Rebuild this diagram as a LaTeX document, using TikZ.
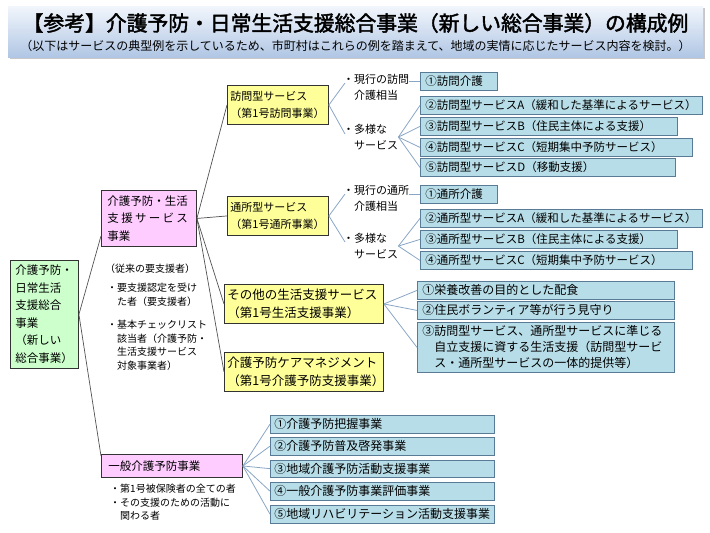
\documentclass[tikz,border=0pt]{standalone}
\usepackage{fontspec}
\setmainfont[AutoFakeBold=2]{Noto Sans CJK JP}
\usetikzlibrary{positioning}
\definecolor{RootGreen}{HTML}{CCFFCC}
\definecolor{KindPink}{HTML}{FFCCFF}
\definecolor{SvcYellow}{HTML}{FFFF99}
\definecolor{ItemBlue}{HTML}{B7DDE8}
\definecolor{ItemEdge}{HTML}{5A7B96}
\definecolor{FanLine}{HTML}{8AA6C6}
\definecolor{BoxInk}{HTML}{333333}
\definecolor{BannerTop}{HTML}{F2F6FC}
\definecolor{BannerBot}{HTML}{B0C6E4}

\begin{document}
\begin{tikzpicture}[x=1pt, y=-1pt,
  box/.style={draw=BoxInk, line width=0.9pt, anchor=north west,
              align=left, inner ysep=0pt},
  root/.style={box, fill=RootGreen, text width=58pt, minimum height=108pt,
               inner xsep=5pt, font=\fontsize{11.5}{17.5}\selectfont},
  kind/.style={box, fill=KindPink, inner xsep=6pt,
               font=\fontsize{11.5}{17.5}\selectfont},
  svc/.style={box, fill=SvcYellow, inner xsep=3pt, minimum height=39pt},
  item/.style={draw=ItemEdge, line width=0.8pt, fill=ItemBlue,
               anchor=north west, align=left, inner xsep=5pt, inner ysep=0pt,
               minimum height=18pt, text width=#1},
  note/.style={anchor=north west, align=left, inner sep=0pt,
               font=\fontsize{10}{13.5}\selectfont},
  mid/.style={anchor=north west, align=left, inner sep=0pt,
              font=\fontsize{11}{16}\selectfont},
  tie/.style={draw=BoxInk!85, line width=0.7pt},
  fan/.style={draw=FanLine, line width=0.8pt}
]
\useasboundingbox (0,0) rectangle (710,533);

% title banner
\fill[black!22] (10,8) rectangle (705,59);
\shade[top color=BannerTop, bottom color=BannerBot] (8,6) rectangle (703,57);
\node[font=\bfseries\fontsize{20.8}{24}\selectfont] (title) at (355.5,23)
  {【参考】介護予防・日常生活支援総合事業（新しい総合事業）の構成例};
\node[font=\fontsize{12}{14}\selectfont] (subtitle) at (355.5,46)
  {（以下はサービスの典型例を示しているため、市町村はこれらの例を踏まえて、地域の実情に応じたサービス内容を検討。）};

% main boxes
\node[root] (root) at (10,260)
  {介護予防・\\日常生活\\支援総合\\事業\\（新しい\\総合事業）};
\node[kind, text width=83pt, minimum height=56pt] (kind1) at (101,190)
  {介護予防・生活\\
   \makebox[80.5pt][s]{支\hfill 援\hfill サ\hfill ー\hfill ビ\hfill ス}\\
   事業};
\node[kind, text width=127pt, minimum height=23pt, inner xsep=7pt] (kind2) at (101,454)
  {一般介護予防事業};

\node[note] (who1) at (105,264) {（従来の要支援者）};
\node[note] (who2) at (107,283)
  {・要支援認定を受け\\\hspace*{1em}た者（要支援者）};
\node[note] (who3) at (107,320)
  {・基本チェックリスト\\\hspace*{1em}該当者（介護予防・\\\hspace*{1em}生活支援サービス\\\hspace*{1em}対象事業者）};
\node[note] (who4) at (110,484)
  {・第1号被保険者の全ての者\\・その支援のための活動に\\\hspace*{1em}関わる者};

% service boxes
\node[svc, text width=95pt, font=\fontsize{11}{17}\selectfont] (hoSvc) at (227,85)
  {訪問型サービス\\（第1号訪問事業）};
\node[svc, text width=95pt, font=\fontsize{11}{17}\selectfont] (tsSvc) at (227,196)
  {通所型サービス\\（第1号通所事業）};
\node[svc, text width=153pt, font=\fontsize{12.5}{18}\selectfont] (other) at (224,284)
  {その他の生活支援サービス\\（第1号生活支援事業）};
\node[svc, text width=153pt, font=\fontsize{12.5}{18}\selectfont] (care) at (224,352)
  {介護予防ケアマネジメント\\（第1号介護予防支援事業）};

% middle labels
\node[mid] (hoCur) at (343,74) {・現行の訪問\\\hspace*{1em}介護相当};
\node[mid] (hoVar) at (343,124) {・多様な\\\hspace*{1em}サービス};
\node[mid] (tsCur) at (343,185) {・現行の通所\\\hspace*{1em}介護相当};
\node[mid] (tsVar) at (343,233) {・多様な\\\hspace*{1em}サービス};
\coordinate (hoCurIn) at (345,83);
\coordinate (hoVarIn) at (345,134);
\coordinate (tsCurIn) at (345,194);
\coordinate (tsVarIn) at (345,242);

% item boxes
\begin{scope}[every node/.append style={font=\fontsize{11.5}{16}\selectfont}]
\node[item=67pt] (hoA) at (420,72) {①訪問介護};
\node[item=272pt] (hoB) at (420,96) {②訪問型サービスA（緩和した基準によるサービス）};
\node[item=247pt] (hoC) at (420,117) {③訪問型サービスB（住民主体による支援）};
\node[item=262pt] (hoD) at (420,138) {④訪問型サービスC（短期集中予防サービス）};
\node[item=245pt] (hoE) at (420,158) {⑤訪問型サービスD（移動支援）};
\node[item=67pt] (tsA) at (420,185) {①通所介護};
\node[item=272pt] (tsB) at (420,209) {②通所型サービスA（緩和した基準によるサービス）};
\node[item=247pt] (tsC) at (420,230) {③通所型サービスB（住民主体による支援）};
\node[item=262pt] (tsD) at (420,251) {④通所型サービスC（短期集中予防サービス）};
\end{scope}
\begin{scope}[every node/.append style={font=\fontsize{12}{16}\selectfont}]
\node[item=247pt] (otA) at (417,281) {①栄養改善の目的とした配食};
\node[item=247pt] (otB) at (417,301) {②住民ボランティア等が行う見守り};
\node[item=247pt, minimum height=50pt] (otC) at (417,322)
  {③訪問型サービス、通所型サービスに準じる\\
   \hspace*{1em}自立支援に資する生活支援（訪問型サービ\\
   \hspace*{1em}ス・通所型サービスの一体的提供等）};
\node[item=216pt, inner xsep=4pt, minimum height=17.5pt] (gnA) at (270,415) {①介護予防把握事業};
\node[item=216pt, inner xsep=4pt, minimum height=17.5pt] (gnB) at (270,437) {②介護予防普及啓発事業};
\node[item=216pt, inner xsep=4pt, minimum height=17.5pt] (gnC) at (270,459.5) {③地域介護予防活動支援事業};
\node[item=216pt, inner xsep=4pt, minimum height=17.5pt] (gnD) at (270,482) {④一般介護予防事業評価事業};
\node[item=216pt, inner xsep=4pt, minimum height=17.5pt] (gnE) at (270,505) {⑤地域リハビリテーション活動支援事業};
\end{scope}

% dark ties
\draw[tie] (root.east) -- (kind1.200);
\draw[tie] (root.east) -- (kind2.172);
\draw[tie] (kind1.east) -- (hoSvc.west);
\draw[tie] (kind1.east) -- (tsSvc.west);
\draw[tie] (kind1.east) -- (other.west);
\draw[tie] (kind1.east) -- (care.west);

% blue fans
\draw[fan] (hoSvc.east) -- (hoCurIn);
\draw[fan] (hoSvc.east) -- (hoVarIn);
\draw[fan] (hoCur.east |- hoA.west) -- (hoA.west);
\draw[fan] (hoVar.east) -- (hoB.west);
\draw[fan] (hoVar.east) -- (hoC.west);
\draw[fan] (hoVar.east) -- (hoD.west);
\draw[fan] (hoVar.east) -- (hoE.west);
\draw[fan] (tsSvc.east) -- (tsCurIn);
\draw[fan] (tsSvc.east) -- (tsVarIn);
\draw[fan] (tsCur.east |- tsA.west) -- (tsA.west);
\draw[fan] (tsVar.east) -- (tsB.west);
\draw[fan] (tsVar.east) -- (tsC.west);
\draw[fan] (tsVar.east) -- (tsD.west);
\draw[fan] (other.east) -- (otA.west);
\draw[fan] (other.east) -- (otB.west);
\draw[fan] (other.east) -- (otC.west);
\draw[fan] (kind2.east) -- (gnA.west);
\draw[fan] (kind2.east) -- (gnB.west);
\draw[fan] (kind2.east) -- (gnC.west);
\draw[fan] (kind2.east) -- (gnD.west);
\draw[fan] (kind2.east) -- (gnE.west);
\end{tikzpicture}
\end{document}
